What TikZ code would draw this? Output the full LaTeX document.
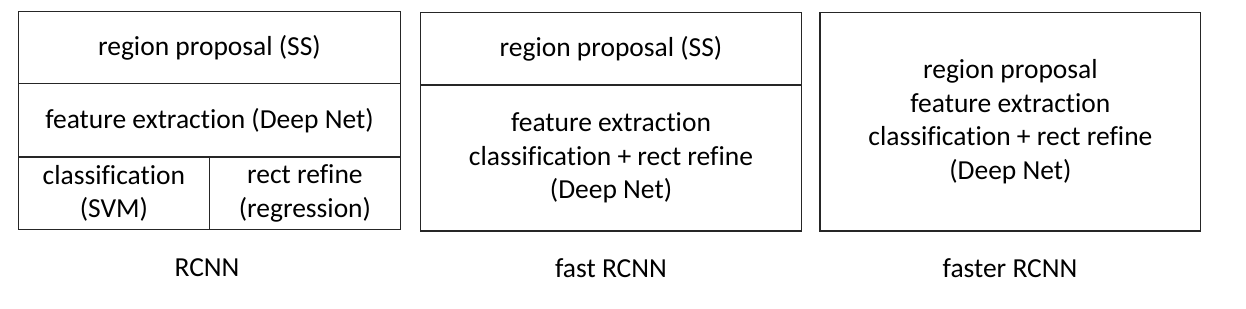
\documentclass[tikz,border=0pt]{standalone}
\usepackage{fontspec}
\setmainfont[Ligatures=CommonOff]{Carlito}
\usetikzlibrary{positioning}

\begin{document}
\begin{tikzpicture}[
  x=1pt, y=-1pt,
  cell/.style={draw=black!85, line width=1.3pt, inner sep=0pt, outer sep=0pt,
               align=center, font=\fontsize{27.5}{33.5}\selectfont},
  caption/.style={inner sep=0pt, font=\fontsize{27.5}{33.5}\selectfont}
]
\useasboundingbox (0,0) rectangle (1246,308);

% RCNN
\node[cell, minimum width=382pt, minimum height=71.6pt]   (rp1)  at (209.5,47.5)  {region proposal (SS)};
\node[cell, minimum width=382pt, minimum height=73.7pt]   (fe1)  at (209.5,120.2) {feature extraction (Deep Net)};
\node[cell, minimum width=190.8pt, minimum height=72.3pt] (cls1) at (113.9,193.2) {classification\\(SVM)};
\node[cell, minimum width=191.2pt, minimum height=72.3pt] (reg1) at (304.9,193.2) {rect refine\\(regression)};
\node[caption] (lab1) at (207,268) {RCNN};

% fast RCNN
\node[cell, minimum width=380.6pt, minimum height=72.3pt] (rp2) at (611,48.85) {region proposal (SS)};
\node[cell, minimum width=380.6pt, minimum height=146pt]  (fe2) at (611,158)   {feature extraction\\classification + rect refine\\(Deep Net)};
\node[caption] (lab2) at (611,268) {fast RCNN};

% faster RCNN
\node[cell, minimum width=380.7pt, minimum height=218.3pt] (all3) at (1010.4,121.85)
  {region proposal\\feature extraction\\classification + rect refine\\(Deep Net)};
\node[caption] (lab3) at (1010,268) {faster RCNN};
\end{tikzpicture}
\end{document}
